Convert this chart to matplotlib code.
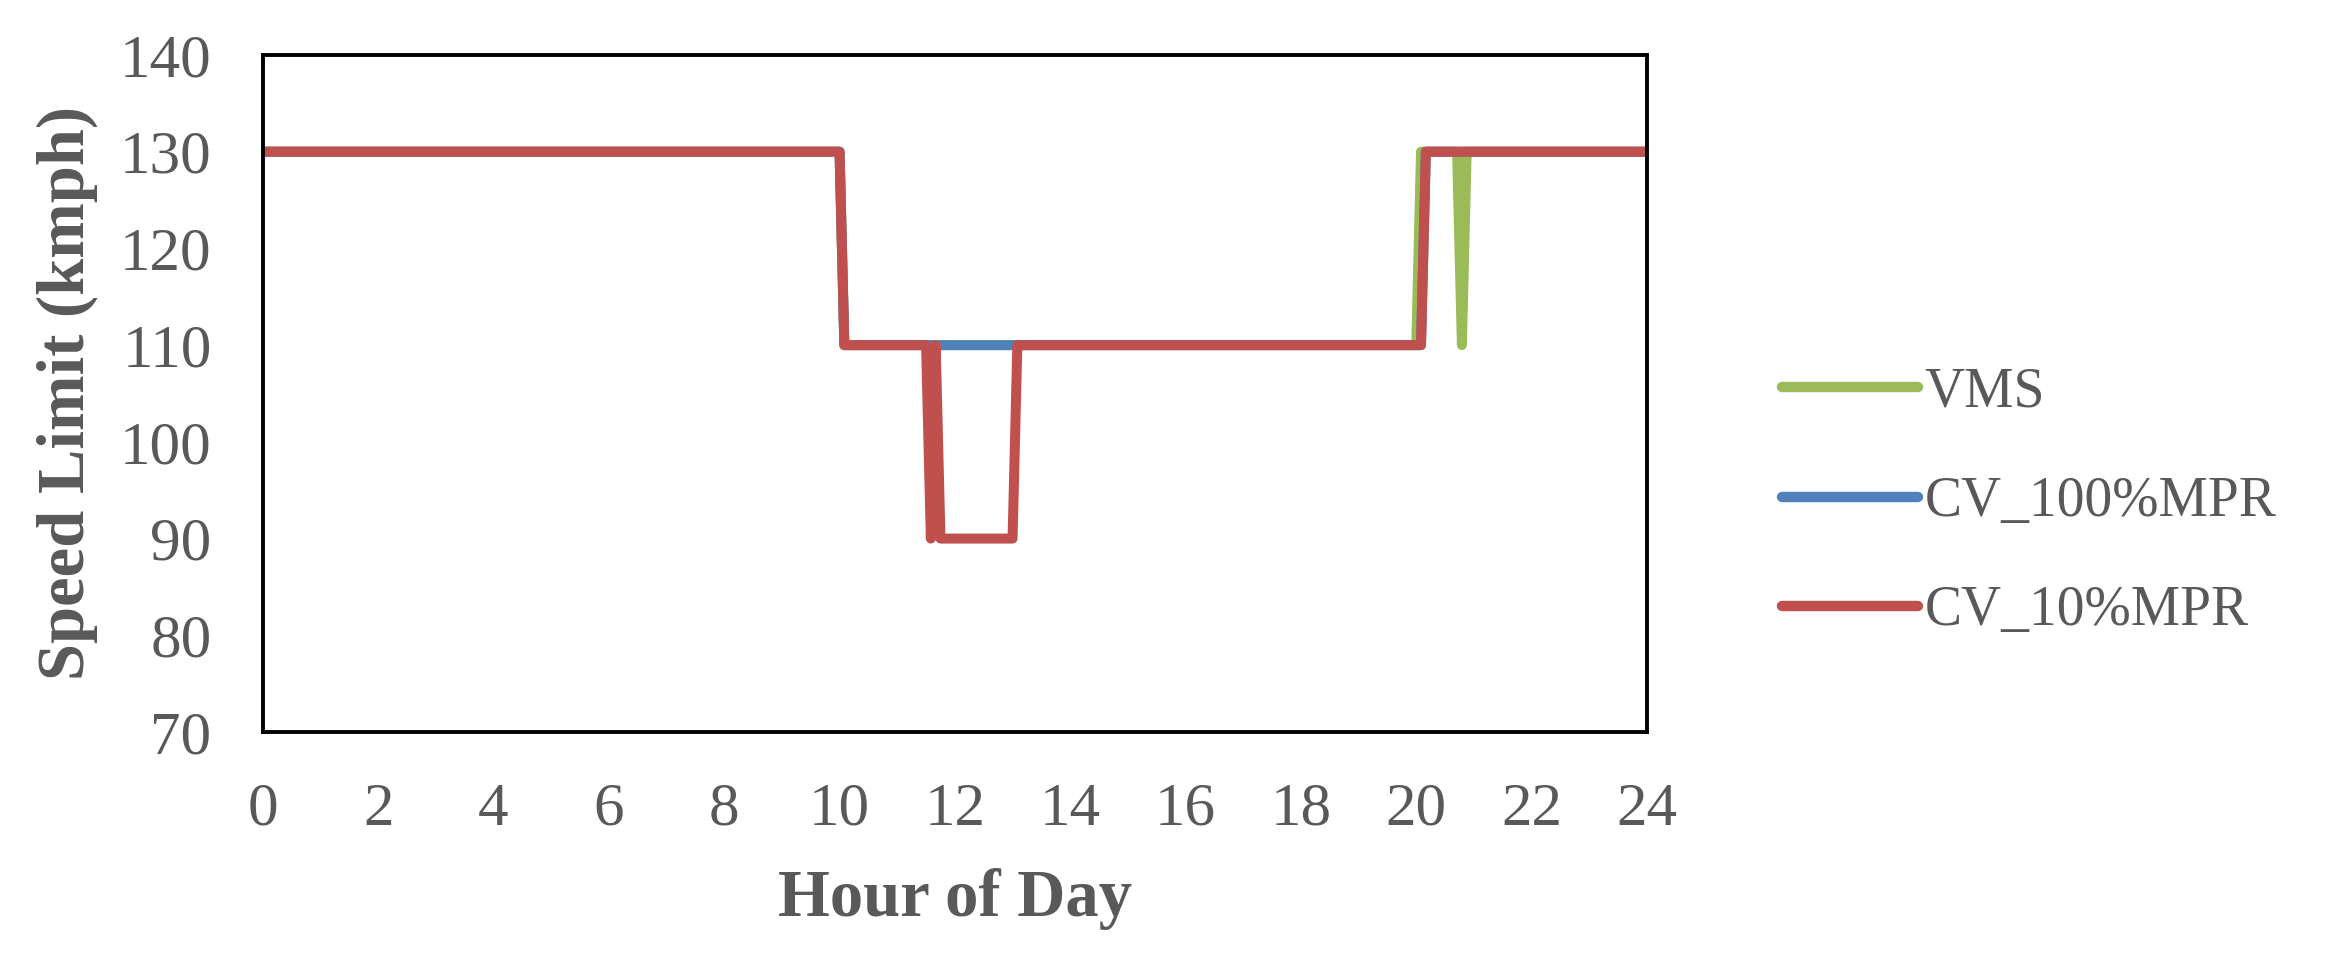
import matplotlib
matplotlib.use('Agg')
import matplotlib.pyplot as plt

# Speed limit profiles (hour of day -> speed limit, kmph), 5-min breakpoints
vms_hour = [0, 10.0, 10.083, 20.0, 20.083, 20.708, 20.792, 20.875, 24]
vms_speed = [130, 130, 110, 110, 130, 130, 110, 130, 130]

cv100_hour = [0, 10.0, 10.083, 20.083, 20.167, 24]
cv100_speed = [130, 130, 110, 110, 130, 130]

cv10_hour = [0, 10.0, 10.083, 11.5, 11.583, 11.667, 11.75, 13.0, 13.083,
             20.083, 20.167, 24]
cv10_speed = [130, 130, 110, 110, 90, 110, 90, 90, 110, 110, 130, 130]

series = [
    ('VMS', vms_hour, vms_speed, '#9BBB59'),
    ('CV_100%MPR', cv100_hour, cv100_speed, '#4F81BD'),
    ('CV_10%MPR', cv10_hour, cv10_speed, '#C0504D'),
]

x_ticks = list(range(0, 25, 2))
y_ticks = list(range(70, 141, 10))

TXT = '#595959'
plt.rcParams['font.family'] = ['Liberation Serif', 'DejaVu Serif']

fig = plt.figure(figsize=(23.41, 9.58), dpi=100)
ax = fig.add_axes([0.1123, 0.2359, 0.5912, 0.7067])

for name, x, y, c in series:
    ax.plot(x, y, color=c, lw=7.2, label=name,
            solid_joinstyle='round', solid_capstyle='round')

ax.set_xlim(0, 24)
ax.set_ylim(70, 140)
ax.set_xticks(x_ticks)
ax.set_yticks(y_ticks)
ax.tick_params(axis='both', length=0, labelsize=44, labelcolor=TXT)
ax.tick_params(axis='x', pad=36)
ax.tick_params(axis='y', pad=37)
for s in ax.spines.values():
    s.set_linewidth(2.8)
    s.set_color('black')

ax.set_xlabel('Hour of Day', fontsize=48, fontweight='bold', color=TXT, labelpad=22)
ax.set_ylabel('Speed Limit (kmph)', fontsize=48, fontweight='bold', color=TXT, labelpad=16)

leg = fig.legend(loc='center left', bbox_to_anchor=(0.761, 0.476), frameon=False,
                 fontsize=40, handlelength=2.45, handletextpad=0.12,
                 labelspacing=1.03, borderpad=0, borderaxespad=0)
for t in leg.get_texts():
    t.set_color(TXT)
for h in leg.get_lines():
    h.set_linewidth(7.5)
    h.set_solid_capstyle('round')

fig.savefig('out.png', dpi=100)
